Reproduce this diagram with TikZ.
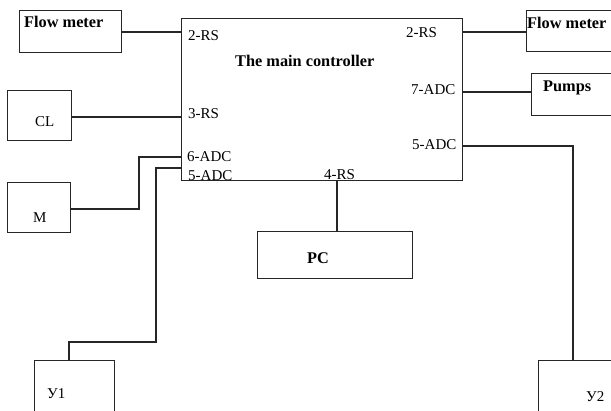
\documentclass[tikz,border=0pt]{standalone}
\usepackage{fontspec}
\setmainfont{Liberation Serif}
\begin{document}
\begin{tikzpicture}[x=1pt,y=-1pt,
  box/.style={draw=black!85,line width=1.2pt,rectangle,inner sep=0pt,anchor=north west},
  wire/.style={draw=black!85,line width=1.2pt},
  lbl/.style={inner sep=0pt,anchor=base west,font=\fontsize{15}{15}\selectfont},
  blbl/.style={inner sep=0pt,anchor=base west,font=\fontsize{16.3}{16}\selectfont\bfseries}]
\useasboundingbox[fill=white] (0,0) rectangle (611,411);
% boxes
\node[box,minimum width=281pt,minimum height=162pt] (mc) at (181,18) {};
\node[box,minimum width=102pt,minimum height=42pt] (fmL) at (19,10) {};
\node[box,minimum width=120pt,minimum height=41pt] (fmR) at (526,10) {};
\node[box,minimum width=110pt,minimum height=42pt] (pumps) at (531,73) {};
\node[box,minimum width=64pt,minimum height=50pt] (cl) at (7,90) {};
\node[box,minimum width=63pt,minimum height=50pt] (m) at (7,182) {};
\node[box,minimum width=155pt,minimum height=47pt] (pc) at (257,231) {};
\node[box,minimum width=80pt,minimum height=80pt] (y1) at (34,360) {};
\node[box,minimum width=100pt,minimum height=80pt] (y2) at (538,360) {};
% box texts
\node[blbl] (tfmL) at (24,28) {Flow meter};
\node[blbl] (tfmR) at (527,29) {Flow meter};
\node[blbl] (tpumps) at (543,92) {Pumps};
\node[blbl] (tmc) at (235,67) {The main controller};
\node[blbl] (tpc) at (307,264) {PC};
\node[lbl] (tcl) at (35,127) {CL};
\node[lbl] (tm) at (33,223) {M};
\node[lbl] (ty1) at (47,399) {У1};
\node[lbl] (ty2) at (586,402) {У2};
% port labels
\node[lbl] (p2rsL) at (188,41) {2-RS};
\node[lbl] (p2rsR) at (406,38) {2-RS};
\node[lbl] (p7adc) at (411,95) {7-ADC};
\node[lbl] (p3rs) at (188,119) {3-RS};
\node[lbl] (p5adcR) at (412,150) {5-ADC};
\node[lbl] (p6adc) at (187,162) {6-ADC};
\begin{scope}
\clip (mc.north west) rectangle (mc.south east);
\node[lbl] (p5adcL) at (188,181) {5-ADC};
\node[lbl] (p4rs) at (324,180) {4-RS};
\end{scope}
% connectors
\coordinate (c6) at (139,157);
\coordinate (c5a) at (156,168);
\coordinate (c5b) at (156,342);
\coordinate (c5c) at (69,342);
\coordinate (r5a) at (573,146);
\draw[wire] (fmL.north east |- 0,32) -- (mc.west |- 0,32);
\draw[wire] (mc.east |- 0,32) -- (fmR.west |- 0,32);
\draw[wire] (mc.east |- 0,92) -- (pumps.west |- 0,92);
\draw[wire] (cl.east |- 0,117) -- (mc.west |- 0,117);
\draw[wire] (m.east |- 0,209) -| (c6) -- (mc.west |- c6);
\draw[wire] (mc.west |- c5a) -- (c5a) -- (c5b) -- (c5c) -- (c5c |- y1.north);
\draw[wire] (mc.east |- r5a) -- (r5a) -- (r5a |- y2.north);
\draw[wire] (mc.south -| 337,0) -- (pc.north -| 337,0);
\end{tikzpicture}
\end{document}
